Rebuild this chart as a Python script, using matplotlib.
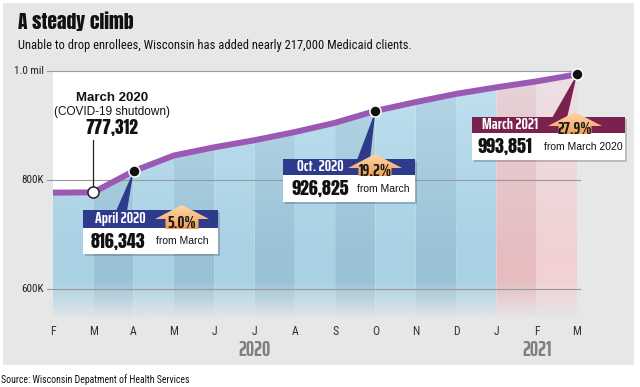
import matplotlib.pyplot as plt
import matplotlib.transforms as mtransforms
from matplotlib.patches import Rectangle, Polygon
import numpy as np

W, H = 640, 387

months = ["F", "M", "A", "M", "J", "J", "A", "S", "O", "N", "D", "J", "F", "M"]
enrollees = [776800, 777312, 816343, 845000, 860000, 873000, 888000, 905000,
             926825, 943000, 958000, 970000, 981000, 993851]
ytick_values = [600000, 800000, 1000000]
ytick_labels = ["600K", "800K", "1.0 mil"]
years = ["2020", "2021"]

HEAVY = ["Anton", "DejaVu Sans"]
COND = ["Saira ExtraCondensed", "DejaVu Sans"]
NARROW = ["Roboto Condensed", "Archivo Narrow", "Sofia Sans Condensed",
          "Saira SemiCondensed", "DejaVu Sans"]
SANS = ["Liberation Sans", "DejaVu Sans"]
PANEL = "#e6e7e8"

fig = plt.figure(figsize=(W / 100, H / 100), dpi=100)
fig.patch.set_facecolor("white")
px = mtransforms.Affine2D().scale(1 / W, -1 / H).translate(0, 1) + fig.transFigure

# one axes over the whole figure: month 0 -> px 53, month 13 -> px 577,
# 800K -> px 180, 200K per 109 px
ax = fig.add_axes([0, 0, 1, 1])
step = (577 - 53) / 13
ax.set_xlim(-53 / step, (W - 53) / step)
ax.set_ylim(800000 - (H - 180) / 109 * 200000, 800000 + 180 / 109 * 200000)
ax.axis("off")


def to_px(xv, yv):
    d = ax.transData.transform((xv, yv))
    return d[0], H - d[1]


def px_to_val(py):
    return 800000 + (180 - py) / 109 * 200000


# grey panel
ax.add_patch(Rectangle((3, 3), 631, 362, transform=px, facecolor=PANEL,
                       edgecolor="none", zorder=0))

x = np.arange(len(months))
y = np.array(enrollees, dtype=float)
n = len(months)
bottom = px_to_val(318)

# white plot area above the line
ax.add_patch(Rectangle((0, bottom), n - 1, 1000000 - bottom, facecolor="white",
                       edgecolor="none", zorder=1))

# alternating month bands under the line
blue_light, blue_dark = "#a8d1e4", "#99c2d6"
pink_dark, pink_light = "#e6bcbf", "#f1d1d3"
for i in range(n - 1):
    if i == n - 3:
        c = pink_dark
    elif i == n - 2:
        c = pink_light
    else:
        c = blue_light if i % 2 == 0 else blue_dark
    ax.fill_between([x[i], x[i + 1]], [bottom, bottom], [y[i], y[i + 1]],
                    facecolor=c, edgecolor="none", zorder=2)

# lighter tint near the top of the bands
top_v = px_to_val(71)
grad = np.zeros((100, 2, 4))
grad[..., :3] = [0.9, 0.97, 1.0]
grad[..., 3] = np.linspace(0.0, 0.4, 100)[:, None]
img = ax.imshow(grad, extent=[0, n - 1, px_to_val(260), top_v], origin="lower",
                aspect="auto", zorder=3, interpolation="bilinear")
clip = Polygon(np.column_stack([np.r_[x, x[-1], x[0]], np.r_[y, bottom, bottom]]),
               transform=ax.transData, facecolor="none", edgecolor="none")
ax.add_patch(clip)
img.set_clip_path(clip)

# fade to panel grey at the bottom
rgb = np.array([0xe6, 0xe7, 0xe8]) / 255
fade = np.zeros((100, 2, 4))
fade[..., :3] = rgb
fade[..., 3] = np.linspace(1.0, 0.0, 100)[:, None]
ax.imshow(fade, extent=[-0.05, n - 0.95, px_to_val(320), px_to_val(280)],
          origin="lower", aspect="auto", zorder=4, interpolation="bilinear")

# gridlines and y labels
for v, lab in zip(ytick_values, ytick_labels):
    ax.plot([-0.15, n - 0.93], [v, v], color="#9a9a9a", lw=0.8, zorder=5)
    ax.text(-0.22, v, lab, ha="right", va="center", fontsize=8,
            family=NARROW, color="#222222", zorder=6)

# month and year labels
for i, m in enumerate(months):
    ax.text(i, px_to_val(331), m, ha="center", va="center", fontsize=8.5,
            family=NARROW, color="#333333")
ax.text(5, px_to_val(350), years[0], ha="center", va="center", fontsize=15,
        family=COND, weight="bold", color="#808080")
ax.text(12, px_to_val(350), years[1], ha="center", va="center", fontsize=15,
        family=COND, weight="bold", color="#808080")

# enrollment line
ax.plot(x, y, color="#9b59b4", lw=4.3, solid_capstyle="butt",
        solid_joinstyle="round", zorder=7)

# March 2020 annotation
mx, my = to_px(1, enrollees[1])
ax.plot([mx, mx], [140, my], transform=px, color="#222222", lw=0.9, zorder=8)
ax.text(112, 98, "March 2020", transform=px, ha="center", va="center",
        fontsize=9.5, family=SANS, weight="bold", color="#111111", zorder=9)
ax.text(112, 112, "(COVID-19 shutdown)", transform=px, ha="center", va="center",
        fontsize=8.5, family=SANS, color="#111111", zorder=9)
ax.text(112, 128, "777,312", transform=px, ha="center", va="center",
        fontsize=12.5, family=HEAVY, color="#111111", zorder=9)
ax.plot(1, enrollees[1], "o", ms=8, mfc="white", mec="#222222", mew=1.1, zorder=12)

# vertical gradient used for the orange arrows
arrow_grad = np.zeros((100, 2, 4))
top_c = np.array([0xfc, 0xd8, 0xac]) / 255
bot_c = np.array([0xf3, 0xa0, 0x55]) / 255
for k in range(3):
    arrow_grad[..., k] = np.linspace(bot_c[k], top_c[k], 100)[:, None]
arrow_grad[..., 3] = 1.0


def callout(idx, box, head_h, body_h, base, head_color, label, label_x, number,
            num_x, note, note_x, arrow_x, pct):
    x0, y0, x1 = box
    tx, ty = to_px(idx, enrollees[idx])
    # shadow
    ax.add_patch(Rectangle((x0 + 2, y0 + 2), x1 - x0, head_h + body_h,
                           transform=px, facecolor="#000000", alpha=0.18,
                           edgecolor="none", zorder=8))
    # pointer towards the point
    ax.add_patch(Polygon([(base[0], y0 + 1), (base[1], y0 + 1), (tx, ty)],
                         closed=True, transform=px, facecolor=head_color,
                         edgecolor="none", zorder=8))
    ax.add_patch(Rectangle((x0, y0), x1 - x0, head_h, transform=px,
                           facecolor=head_color, edgecolor="none", zorder=8))
    ax.add_patch(Rectangle((x0, y0 + head_h), x1 - x0, body_h, transform=px,
                           facecolor="white", edgecolor="none", zorder=8))
    # orange up arrow
    cx, tip, sh, bot = arrow_x, y0 - 5, y0 + 9, y0 + head_h + 1
    shape = Polygon([(cx, tip), (cx + 27, sh), (cx + 16.5, sh), (cx + 16.5, bot),
                     (cx - 16.5, bot), (cx - 16.5, sh), (cx - 27, sh)],
                    closed=True, transform=px, facecolor="none", edgecolor="none")
    ax.add_patch(shape)
    tip_v = ax.transData.inverted().transform(px.transform((cx - 27, tip)))
    bot_v = ax.transData.inverted().transform(px.transform((cx + 27, bot)))
    im = ax.imshow(arrow_grad, extent=[tip_v[0], bot_v[0], bot_v[1], tip_v[1]],
                   origin="lower", aspect="auto", zorder=9, interpolation="bilinear")
    im.set_clip_path(shape)
    ax.text(cx, y0 + 12.5, pct, transform=px, ha="center", va="center",
            fontsize=12.5, family=COND, weight="bold", color="#1a1a1a", zorder=10)
    ax.text(label_x, y0 + head_h / 2, label, transform=px, ha="center",
            va="center", fontsize=11.5, family=COND, weight="bold",
            color="white", zorder=10)
    ax.text(num_x, y0 + head_h + body_h / 2, number, transform=px,
            ha="center", va="center", fontsize=13, family=HEAVY,
            color="#111111", zorder=10)
    ax.text(note_x, y0 + head_h + body_h / 2, note, transform=px, ha="center",
            va="center", fontsize=7.5, family=SANS, color="#111111", zorder=10)
    ax.plot(idx, enrollees[idx], "o", ms=8, mfc="#111111", mec="white", mew=1.1,
            zorder=12)


callout(2, (83, 210, 218), 18, 26, (116, 127), "#2e3a8c", "April 2020", 120,
        "816,343", 118, "from March", 182, 182, "5.0%")
callout(8, (283, 159, 415), 16, 27, (357, 370), "#2e3a8c", "Oct. 2020", 320,
        "926,825", 320, "from March", 383, 375, "19.2%")
callout(13, (472, 117, 625), 16, 27, (552, 567), "#7b2150", "March 2021", 510,
        "993,851", 505, "from March 2020", 583, 575, "27.9%")

# titles and source
ax.text(18, 21, "A steady climb", transform=px, ha="left", va="center",
        fontsize=14, family=HEAVY, color="#111111")
ax.text(18, 46,
        "Unable to drop enrollees, Wisconsin has added nearly 217,000 Medicaid clients.",
        transform=px, ha="left", va="center", fontsize=9, family=NARROW,
        color="#111111")
ax.text(1, 380, "Source: Wisconsin Depatment of Health Services", transform=px,
        ha="left", va="center", fontsize=7, family=NARROW, color="#111111")

fig.savefig("out.png", dpi=100)
